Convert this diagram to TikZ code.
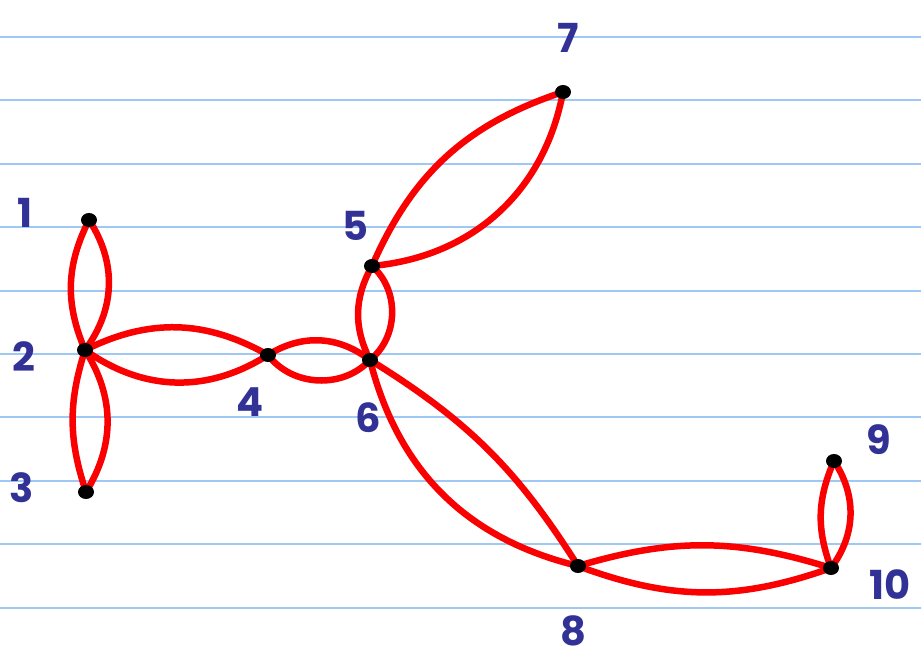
\documentclass[tikz,border=0pt]{standalone}
\usepackage{fontspec}
\setsansfont{Poppins}
\usetikzlibrary{shapes.geometric}
\definecolor{ruleblue}{RGB}{160,200,245}
\definecolor{edgered}{RGB}{250,0,0}
\definecolor{labelblue}{RGB}{50,50,150}
\begin{document}
\begin{tikzpicture}[x=1pt,y=-1pt,
  dot/.style={ellipse,fill=black,minimum width=16pt,minimum height=14pt,inner sep=0pt},
  edge/.style={draw=edgered,line width=6.5pt,line cap=round},
  lbl/.style={text=labelblue,font=\sffamily\bfseries\fontsize{40}{40}\selectfont,inner sep=0pt},
  rule/.style={draw=ruleblue,line width=2.5pt}]
\useasboundingbox[fill=white] (0,0) rectangle (921,664);
% ruled lines
\foreach \y [count=\i] in {37,100,164,227,291,354,417,481,544,608}
  \draw[rule] (0,\y) coordinate (l\i) -- (921,\y) coordinate (r\i);
% edges drawn below dots
\coordinate (p1) at (89,220);
\coordinate (p2) at (85,350);
\coordinate (p3) at (86,492);
\coordinate (p4) at (268,355);
\coordinate (p5) at (372,266);
\coordinate (p6) at (370,360);
\coordinate (p7) at (563,92);
\coordinate (p8) at (578,566);
\coordinate (p9) at (834,461);
\coordinate (p10) at (831,568);
\draw[edge] (p1) to[bend left=35] (p2);
\draw[edge] (p1) to[bend right=25] (p2);
\draw[edge] (p2) to[bend left=32] (p3);
\draw[edge] (p2) to[bend right=18] (p3);
\draw[edge] (p2) to[bend left=28] (p4);
\draw[edge] (p2) to[bend right=34] (p4);
\draw[edge] (p4) to[bend left=35] (p6);
\draw[edge] (p4) to[bend right=50] (p6);
\draw[edge] (p5) to[bend left=50] (p6);
\draw[edge] (p5) to[bend right=28] (p6);
\draw[edge] (p5) to[bend left=24] (p7);
\draw[edge] (p5) to[bend right=37] (p7);
\draw[edge] (p6) to[bend left=13] (p8);
\draw[edge] (p6) to[bend right=31] (p8);
\draw[edge] (p8) to[bend left=17] (p10);
\draw[edge] (p8) to[bend right=20] (p10);
\draw[edge] (p9) to[bend left=35] (p10);
\draw[edge] (p9) to[bend right=22] (p10);
% dots
\foreach \i in {1,...,10} \node[dot] (n\i) at (p\i) {};
% labels
\node[lbl] (t1) at (25,213) {1};
\node[lbl] (t2) at (24,357) {2};
\node[lbl] (t3) at (22,488) {3};
\node[lbl] (t4) at (250,402) {4};
\node[lbl] (t5) at (355,226) {5};
\node[lbl] (t6) at (368,418) {6};
\node[lbl] (t7) at (568,38) {7};
\node[lbl] (t8) at (573,631) {8};
\node[lbl] (t9) at (879,440) {9};
\node[lbl] (t10) at (890,585) {10};
\end{tikzpicture}
\end{document}
